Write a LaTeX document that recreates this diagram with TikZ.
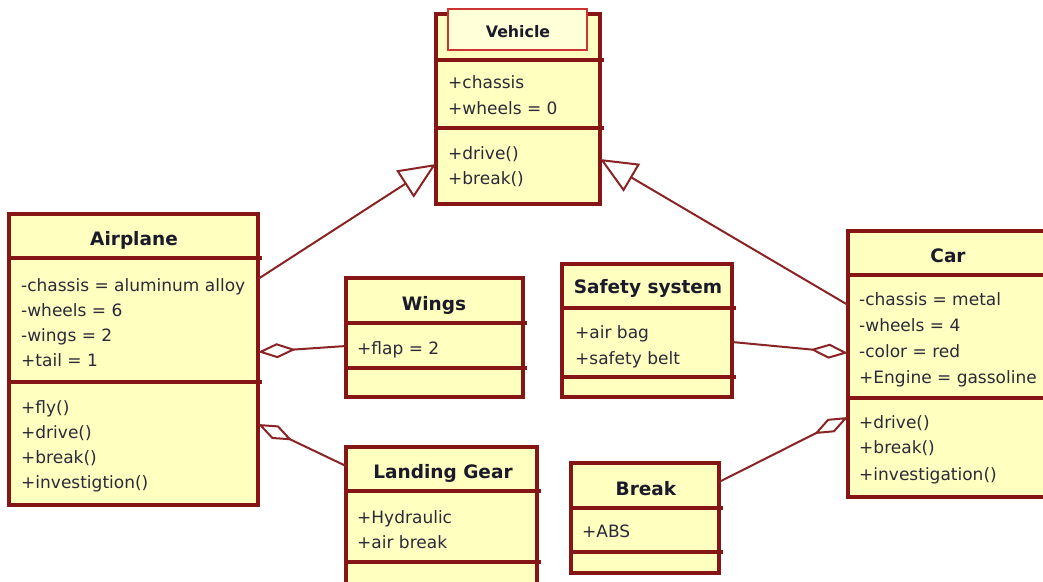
\documentclass[tikz,border=0pt]{standalone}
\usepackage{fontspec}
\setmainfont{DejaVu Sans}
\usetikzlibrary{arrows.meta}
\definecolor{umlred}{HTML}{861616}
\definecolor{umlfill}{HTML}{FFFFC0}
\definecolor{linkred}{HTML}{8A2424}
\definecolor{attrtext}{HTML}{2A2A3A}
\definecolor{nametext}{HTML}{1A1A2A}
\definecolor{stereored}{HTML}{CC3333}
\definecolor{stereofill}{HTML}{FFFFD8}
\begin{document}
\begin{tikzpicture}[x=1pt,y=-1pt,
  classbox/.style={draw=umlred, line width=3.2pt, fill=umlfill, inner sep=0pt, outer sep=0pt, anchor=north west},
  sepline/.style={draw=umlred, line width=3.2pt},
  attr/.style={anchor=base west, inner sep=0pt, text=attrtext, font=\fontsize{17}{20}\selectfont},
  cname/.style={anchor=base, inner sep=0pt, text=nametext, font=\bfseries\fontsize{18.5}{22}\selectfont},
  link/.style={draw=linkred, line width=2pt},
  generalization/.style={link, -{Triangle[open, length=37pt, width=32pt, fill=white]}},
  aggregation/.style={link, -{Diamond[open, length=38pt, width=15pt, fill=white]}},
]
\fill[white] (0,0) rectangle (1043,581);
\useasboundingbox (0,0) rectangle (1043,581);
\clip (0,0) rectangle (1043,581);

% ---------- Vehicle ----------
\node[classbox, minimum width=164, minimum height=190] (vehicle) at (436,14) {};
\node[draw=stereored, line width=1.4pt, fill=stereofill, inner sep=0pt, outer sep=0pt,
      minimum width=139, minimum height=41, anchor=north west] (vstereo) at (448,9) {};
\node[anchor=base, inner sep=0pt, text=nametext, font=\bfseries\fontsize{15.8}{18}\selectfont] (vname) at (518,37) {Vehicle};
\draw[sepline] (436,60) -- (604,60);
\draw[sepline] (436,128) -- (604,128);
\node[attr] (v1) at (448,88) {+chassis};
\node[attr] (v2) at (448,114) {+wheels = 0};
\node[attr] (v3) at (448,159) {+drive()};
\node[attr] (v4) at (448,184) {+break()};

% ---------- Airplane ----------
\node[classbox, minimum width=249, minimum height=291] (airplane) at (9,214) {};
\node[cname] (aname) at (134,245) {Airplane};
\draw[sepline] (9,258) -- (262,258);
\draw[sepline] (9,382) -- (262,382);
\node[attr] (a1) at (21,291) {-chassis = aluminum alloy};
\node[attr] (a2) at (21,316) {-wheels = 6};
\node[attr] (a3) at (21,341) {-wings = 2};
\node[attr] (a4) at (21,366) {+tail = 1};
\node[attr] (a5) at (21,413) {+fly()};
\node[attr] (a6) at (21,438) {+drive()};
\node[attr] (a7) at (21,463) {+break()};
\node[attr] (a8) at (21,488) {+investigtion()};

% ---------- Wings ----------
\node[classbox, minimum width=177, minimum height=119] (wings) at (346,278) {};
\node[cname] (wname) at (434,310) {Wings};
\draw[sepline] (346,323) -- (527,323);
\draw[sepline] (346,368) -- (527,368);
\node[attr] (w1) at (357,354) {+flap = 2};

% ---------- Safety system ----------
\node[classbox, minimum width=170, minimum height=133] (safety) at (562,264) {};
\node[cname] (sname) at (648,293) {Safety system};
\draw[sepline] (562,308) -- (736,308);
\draw[sepline] (562,377) -- (736,377);
\node[attr] (s1) at (575,338) {+air bag};
\node[attr] (s2) at (575,364) {+safety belt};

% ---------- Landing Gear ----------
\node[classbox, minimum width=191, minimum height=160] (landing) at (346,447) {};
\node[cname] (lname) at (443,478) {Landing Gear};
\draw[sepline] (346,491) -- (541,491);
\draw[sepline] (346,562) -- (541,562);
\node[attr] (l1) at (357,523) {+Hydraulic};
\node[attr] (l2) at (357,548) {+air break};

% ---------- Break ----------
\node[classbox, minimum width=148, minimum height=110] (brk) at (571,463) {};
\node[cname] (bname) at (646,495) {Break};
\draw[sepline] (571,508) -- (723,508);
\draw[sepline] (571,552) -- (723,552);
\node[attr] (b1) at (582,537) {+ABS};

% ---------- Car ----------
\node[classbox, minimum width=200, minimum height=266] (car) at (848,231) {};
\node[cname] (cname) at (948,262) {Car};
\draw[sepline] (848,275) -- (1052,275);
\draw[sepline] (848,398) -- (1052,398);
\node[attr] (c1) at (859,305) {-chassis = metal};
\node[attr] (c2) at (859,331) {-wheels = 4};
\node[attr] (c3) at (859,357) {-color = red};
\node[attr] (c4) at (859,383) {+Engine = gassoline};
\node[attr] (c5) at (859,428) {+drive()};
\node[attr] (c6) at (859,453) {+break()};
\node[attr] (c7) at (859,480) {+investigation()};

% ---------- Connectors ----------
\draw[generalization] ([yshift=-65pt]airplane.north east) -- ([yshift=-150pt]vehicle.north west);
\draw[generalization] ([yshift=-74pt]car.north west) -- ([yshift=-145pt]vehicle.north east);
\draw[aggregation] ([yshift=-68pt]wings.north west) -- ([yshift=-138pt]airplane.north east);
\draw[aggregation] ([yshift=-19pt]landing.north west) -- ([yshift=-210pt]airplane.north east);
\draw[aggregation] ([yshift=-78pt]safety.north east) -- ([yshift=-122pt]car.north west);
\draw[aggregation] ([yshift=-19pt]brk.north east) -- ([yshift=-186pt]car.north west);
\end{tikzpicture}
\end{document}
